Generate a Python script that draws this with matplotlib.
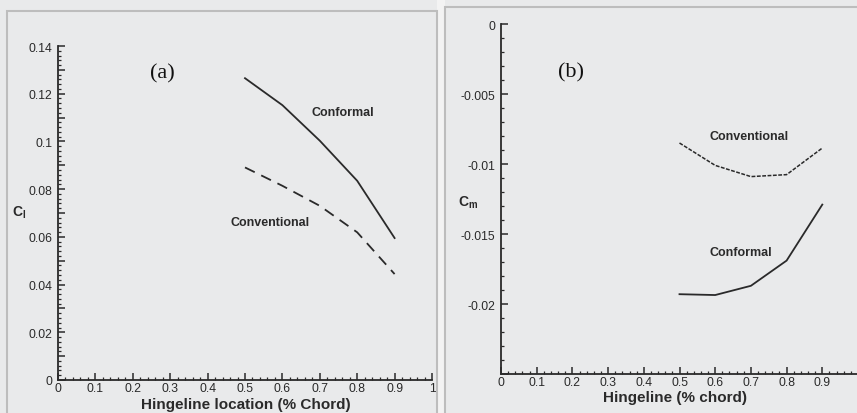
import matplotlib.pyplot as plt
from matplotlib.patches import Rectangle
from matplotlib.ticker import MultipleLocator, FuncFormatter

plt.rcParams['font.family'] = ['Liberation Sans', 'DejaVu Sans']
plt.rcParams['mathtext.fontset'] = 'custom'
plt.rcParams['mathtext.rm'] = 'Liberation Sans:bold'
plt.rcParams['mathtext.bf'] = 'Liberation Sans:bold'

# hingeline location (fraction of chord)
hinge = [0.5, 0.6, 0.7, 0.8, 0.9]

# (a) lift coefficient
cl_conformal = [0.1265, 0.1152, 0.1003, 0.0835, 0.0595]
cl_conventional = [0.0891, 0.0814, 0.0730, 0.0619, 0.0444]

# (b) moment coefficient
cm_conventional = [-0.0085, -0.0101, -0.0109, -0.01076, -0.00886]
cm_conformal = [-0.0193, -0.01936, -0.0187, -0.0169, -0.0129]

W, H = 857, 414
bg = '#e9eaeb'
ink = '#2a2a2a'

fig = plt.figure(figsize=(W / 100, H / 100), dpi=100, facecolor=bg)


def box(x0, y0, x1, y1):
    # rect in pixel coords (top-left origin)
    return [x0 / W, 1 - y1 / H, (x1 - x0) / W, (y1 - y0) / H]


# scanned panel frames
fig.patches.append(Rectangle((437 / W, 0), 8 / W, 1, transform=fig.transFigure,
                             facecolor='#f3f3f3', edgecolor='none'))
fig.patches.append(Rectangle((7 / W, -0.1), 430 / W, 1.1 - 12 / H, transform=fig.transFigure,
                             facecolor='none', edgecolor='#bdbdbd', lw=1.5))
fig.patches.append(Rectangle((445 / W, -0.1), 420 / W, 1.1 - 8 / H, transform=fig.transFigure,
                             facecolor='none', edgecolor='#bdbdbd', lw=1.5))


def fmt(v):
    s = '%g' % round(v, 4)
    return '0' if s == '-0' else s


def style(ax, last_x=True):
    ax.set_facecolor('none')
    for s in ['top', 'right']:
        ax.spines[s].set_visible(False)
    for s in ['left', 'bottom']:
        ax.spines[s].set_color(ink)
        ax.spines[s].set_linewidth(1.3)
    ax.tick_params(which='major', direction='in', length=5, width=1.1, color=ink,
                   labelsize=8.8, labelcolor=ink, pad=4)
    ax.tick_params(which='minor', direction='in', length=2.5, width=0.9, color=ink)
    ax.tick_params(axis='x', which='major', pad=1.5)
    ax.xaxis.set_major_locator(MultipleLocator(0.1))
    ax.xaxis.set_minor_locator(MultipleLocator(0.02))
    ax.xaxis.set_major_formatter(FuncFormatter(
        lambda v, p: '' if (v > 0.95 and not last_x) else fmt(v)))
    ax.set_xlim(0, 1)


txt = dict(fontsize=9, fontweight='bold', color=ink, va='center')
tag = dict(fontsize=16, family='Liberation Serif', color='#111111', ha='center', va='center')

# panel (a)
ax1 = fig.add_axes(box(58, 47, 432, 381))
style(ax1)
ax1.set_ylim(0, 0.14)
ax1.yaxis.set_major_locator(MultipleLocator(0.01))
ax1.yaxis.set_minor_locator(MultipleLocator(0.002))
ax1.yaxis.set_major_formatter(FuncFormatter(
    lambda v, p: fmt(v) if round(v * 100) % 2 == 0 else ''))
ax1.plot(hinge, cl_conformal, color=ink, lw=1.3)
ax1.plot(hinge, cl_conventional, color=ink, lw=1.3, dashes=(6, 4))
ax1.text(0.679, 0.1123, 'Conformal', **txt)
ax1.text(0.460, 0.0662, 'Conventional', **txt)
ax1.text(0.279, 0.1289, '(a)', **tag)

# panel (b)
ax2 = fig.add_axes(box(501, 25, 858, 375))
style(ax2, last_x=False)
ax2.set_ylim(-0.025, 0)
ax2.yaxis.set_major_locator(MultipleLocator(0.005))
ax2.yaxis.set_minor_locator(MultipleLocator(0.001))
ax2.yaxis.set_major_formatter(FuncFormatter(
    lambda v, p: '' if v < -0.0225 else fmt(v)))
ax2.plot(hinge, cm_conventional, color=ink, lw=1.1, dashes=(2.5, 1))
ax2.plot(hinge, cm_conformal, color=ink, lw=1.3)
ax2.text(0.583, -0.0080, 'Conventional', **txt)
ax2.text(0.583, -0.0163, 'Conformal', **txt)
ax2.text(0.196, -0.00343, '(b)', **tag)

# axis titles
fig.text(19 / W, 1 - 213 / H, r'$\mathbf{C_l}$', fontsize=10, color=ink, ha='center', va='center')
fig.text(468 / W, 1 - 203 / H, r'$\mathbf{C_m}$', fontsize=10, color=ink, ha='center', va='center')
fig.text(246 / W, 1 - 405 / H, 'Hingeline location (% Chord)', fontsize=11,
         fontweight='bold', color=ink, ha='center', va='center')
fig.text(675 / W, 1 - 398 / H, 'Hingeline (% chord)', fontsize=11,
         fontweight='bold', color=ink, ha='center', va='center')

fig.savefig('out.png', dpi=100, facecolor=bg)
